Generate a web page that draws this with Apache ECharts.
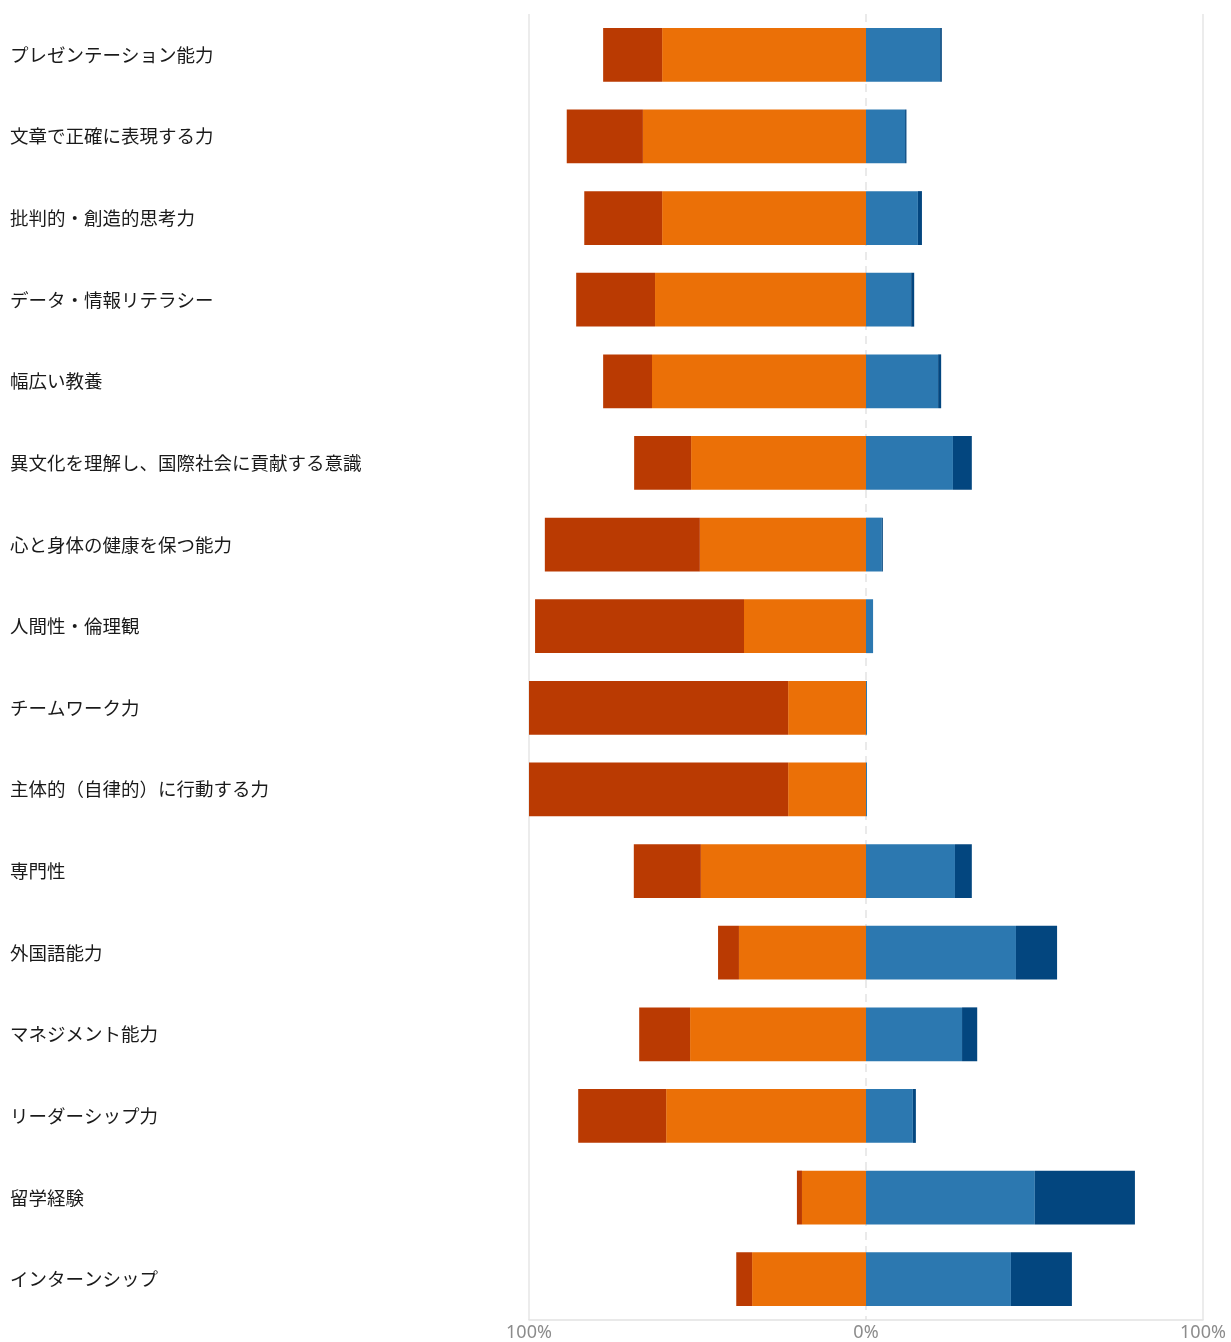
<!DOCTYPE html>
<html>
<head>
<meta charset="utf-8">
<script src="https://cdn.jsdelivr.net/npm/echarts@6/dist/echarts.min.js"></script>
<style>
html,body{margin:0;padding:0;background:#fff;}
#chart{width:1231px;height:1342px;}
</style>
</head>
<body>
<div id="chart"></div>
<script>
const categories = [
  'プレゼンテーション能力',
  '文章で正確に表現する力',
  '批判的・創造的思考力',
  'データ・情報リテラシー',
  '幅広い教養',
  '異文化を理解し、国際社会に貢献する意識',
  '心と身体の健康を保つ能力',
  '人間性・倫理観',
  'チームワーク力',
  '主体的（自律的）に行動する力',
  '専門性',
  '外国語能力',
  'マネジメント能力',
  'リーダーシップ力',
  '留学経験',
  'インターンシップ'
];
// percentages (left side drawn as negative)
const darkRed  = [17.5, 22.6, 23.1, 23.4, 14.5, 16.9, 46.0, 62.0, 76.9, 76.9, 19.9, 6.2, 15.1, 26.1, 1.5, 4.7];
const orange   = [60.5, 66.2, 60.5, 62.6, 63.5, 51.9, 49.3, 36.2, 23.1, 23.1, 49.0, 37.7, 52.2, 59.3, 19.0, 33.8];
const blue     = [22.0, 11.6, 15.4, 13.4, 21.4, 25.8, 4.7, 2.1, 0.3, 0.3, 26.4, 44.5, 28.5, 13.9, 50.1, 43.0];
const darkBlue = [0.5, 0.4, 1.2, 0.9, 0.9, 5.6, 0.3, 0, 0, 0, 5.0, 12.2, 4.5, 0.9, 29.7, 18.1];
const xTicks = [-100, 0, 100];

const chart = echarts.init(document.getElementById('chart'), null, {renderer: 'canvas'});
chart.setOption({
  animation: false,
  grid: {left: 529, right: 28, top: 14, bottom: 21, containLabel: false},
  xAxis: [{
    type: 'value', min: xTicks[0], max: xTicks[2], interval: 100,
    axisLine: {show: true, lineStyle: {color: '#e2e2e2', width: 1.5}},
    axisTick: {show: false},
    axisLabel: {color: '#8c8c8c', fontSize: 18, fontFamily: 'Noto Sans', margin: 4,
      formatter: v => Math.abs(v) + '%'},
    splitLine: {show: true, lineStyle: {color: ['#e6e6e6', 'rgba(0,0,0,0)', '#e6e6e6'], width: 1.5}}
  }, {
    type: 'value', min: xTicks[0], max: xTicks[2], interval: 100, position: 'bottom',
    axisLine: {show: false}, axisTick: {show: false}, axisLabel: {show: false},
    splitLine: {show: true, lineStyle: {color: ['rgba(0,0,0,0)', '#e4e4e4', 'rgba(0,0,0,0)'], type: [8, 6], width: 1.5}}
  }],
  yAxis: {
    type: 'category', data: categories, inverse: true,
    axisLine: {show: false}, axisTick: {show: false},
    axisLabel: {align: 'left', margin: 519, color: '#1a1a1a', fontSize: 18.5,
      fontFamily: 'Noto Sans CJK JP'}
  },
  series: [
    {name: 'orange', type: 'bar', stack: 'all', barWidth: '66%',
     itemStyle: {color: '#EB7007'}, data: orange.map(v => -v)},
    {name: 'darkRed', type: 'bar', stack: 'all',
     itemStyle: {color: '#BA3A02'}, data: darkRed.map(v => -v)},
    {name: 'blue', type: 'bar', stack: 'all',
     itemStyle: {color: '#2C78B0'}, data: blue},
    {name: 'darkBlue', type: 'bar', stack: 'all',
     itemStyle: {color: '#03467F'}, data: darkBlue}
  ]
});
</script>
</body>
</html>
